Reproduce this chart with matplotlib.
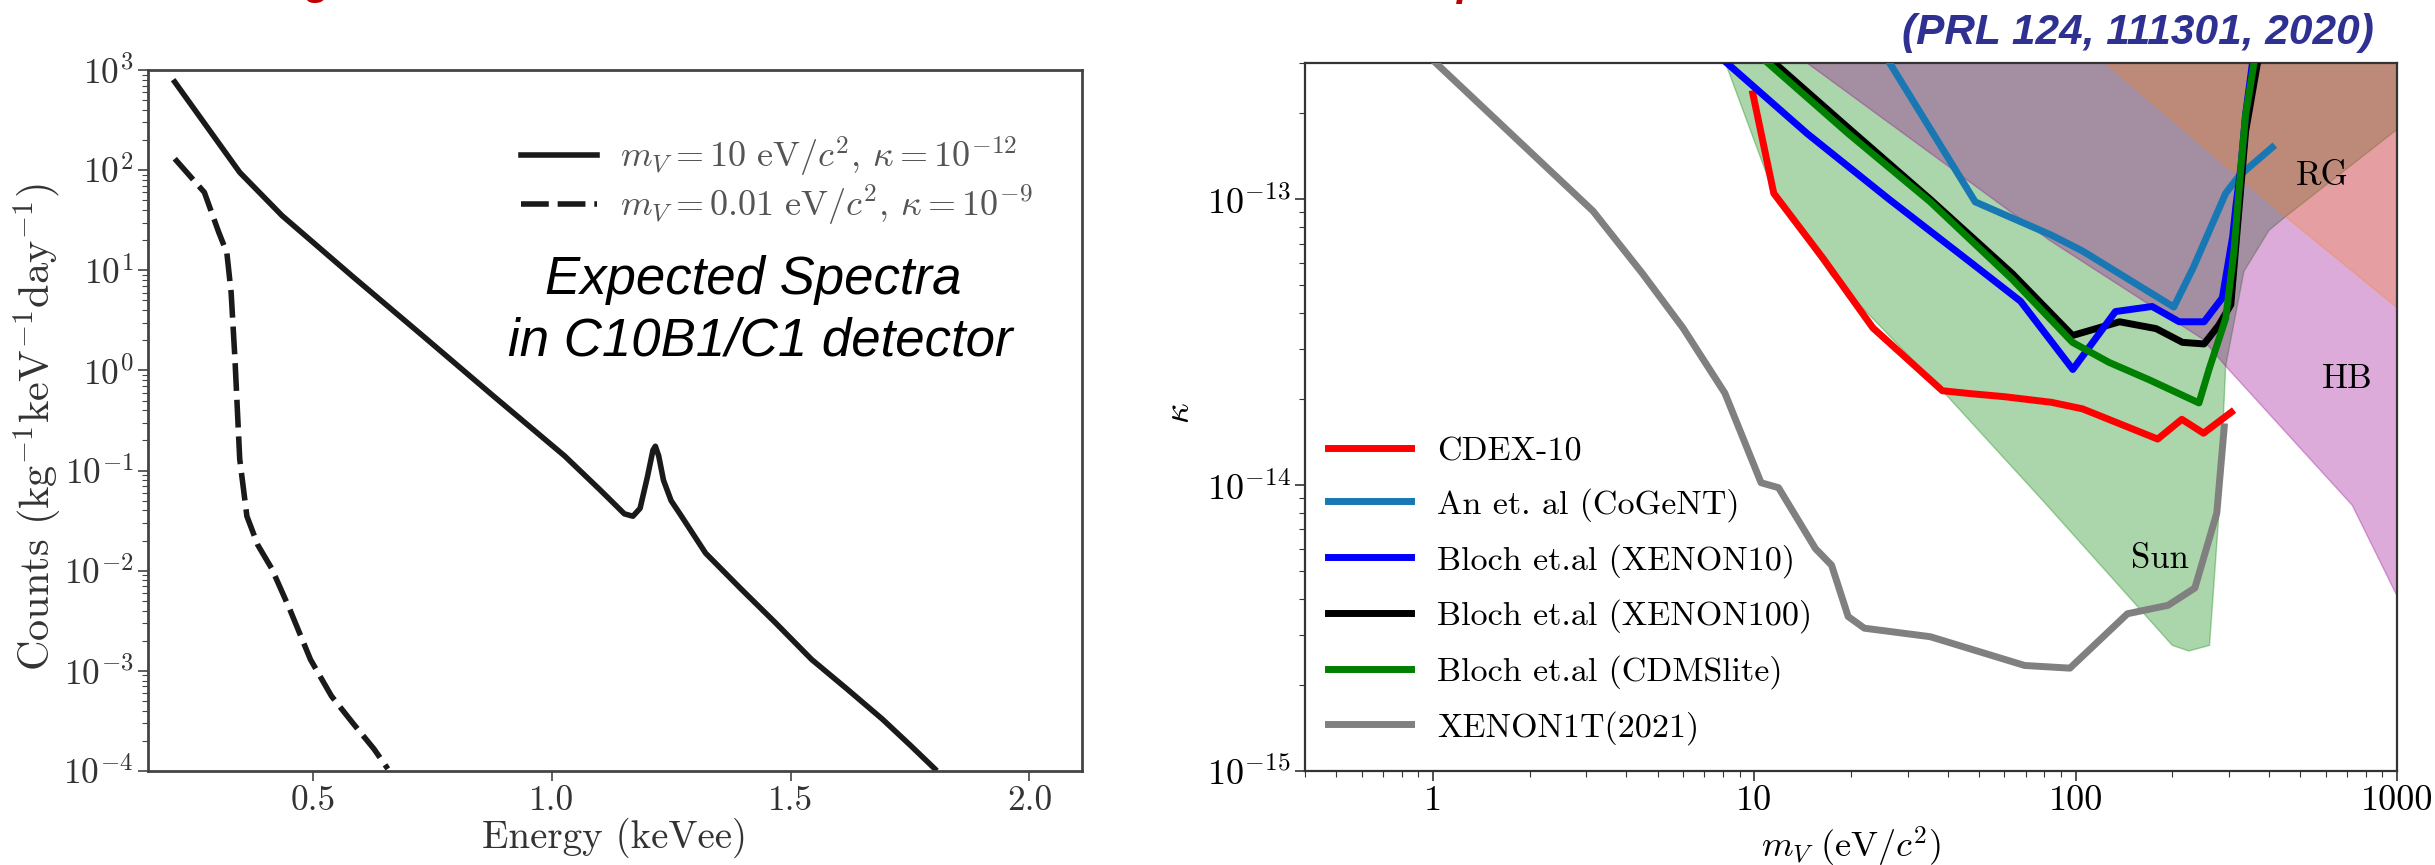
import numpy as np
import matplotlib
matplotlib.use('Agg')
import matplotlib.pyplot as plt
from matplotlib.lines import Line2D

plt.rcParams['font.family'] = ['cmr10', 'DejaVu Serif']
plt.rcParams['mathtext.fontset'] = 'cm'
plt.rcParams['axes.formatter.use_mathtext'] = True
plt.rcParams['axes.unicode_minus'] = False

# ---------------- Left panel data: expected spectra ----------------
energy_solid = [0.211, 0.347, 0.436, 0.583, 0.731, 0.879, 1.027, 1.10, 1.13, 1.152, 1.17,
                1.185, 1.200, 1.212, 1.217, 1.224, 1.234, 1.25, 1.27, 1.322, 1.396, 1.469,
                1.544, 1.618, 1.692, 1.751, 1.802]
counts_solid = [760, 95, 35, 8.7, 2.2, 0.55, 0.14, 0.065, 0.047, 0.037, 0.035,
                0.042, 0.085, 0.16, 0.175, 0.14, 0.08, 0.05, 0.036, 0.015, 0.0066, 0.003,
                0.0013, 0.00066, 0.00033, 0.00018, 0.000105]

energy_dashed = [0.211, 0.273, 0.303, 0.320, 0.329, 0.337, 0.347, 0.362, 0.385, 0.414,
                 0.451, 0.495, 0.539, 0.584, 0.628, 0.657]
counts_dashed = [130, 60, 24, 15, 6, 1.3, 0.13, 0.035, 0.018, 0.0105,
                 0.0042, 0.0013, 0.00056, 0.0003, 0.000166, 0.000105]

legend_left = [r'$m_V = 10\ \mathrm{eV}/c^2$, $\kappa = 10^{-12}$',
               r'$m_V = 0.01\ \mathrm{eV}/c^2$, $\kappa = 10^{-9}$']

# ---------------- Right panel data: exclusion limits ----------------
cdex_m = [9.9, 11.5, 16.4, 23.4, 38.5, 47.3, 60, 84, 105, 130, 180, 214, 250, 305]
cdex_k = [2.34e-13, 1.05e-13, 6.2e-14, 3.55e-14, 2.14e-14, 2.09e-14, 2.04e-14, 1.95e-14,
          1.85e-14, 1.68e-14, 1.45e-14, 1.7e-14, 1.52e-14, 1.8e-14]

cogent_m = [25.3, 48.7, 84, 105, 202, 232, 293, 323, 409]
cogent_k = [3.24e-13, 9.8e-14, 7.5e-14, 6.6e-14, 4.2e-14, 5.75e-14, 1.05e-13, 1.21e-13, 1.52e-13]

xe10_m = [7.6, 14.6, 26.3, 47.3, 67.4, 98, 133, 173, 210, 251, 286, 308, 315, 327, 338, 359]
xe10_k = [3.24e-13, 1.70e-13, 1.0e-13, 6.0e-14, 4.4e-14, 2.54e-14, 4.05e-14, 4.22e-14,
          3.73e-14, 3.73e-14, 4.52e-14, 7.4e-14, 9.4e-14, 1.31e-13, 1.98e-13, 3.3e-13]

xe100_m = [10.7, 19.6, 35.3, 63.5, 97.8, 137, 178, 215, 251, 279, 304, 311, 338, 368, 375]
xe100_k = [3.24e-13, 1.78e-13, 1.0e-13, 5.5e-14, 3.34e-14, 3.73e-14, 3.53e-14, 3.16e-14,
           3.12e-14, 3.63e-14, 4.28e-14, 5.78e-14, 1.73e-13, 3.0e-13, 3.3e-13]

cdms_m = [10.2, 19.6, 35.3, 63.5, 97.8, 127, 169, 242, 260, 293, 311, 327, 338, 359, 362]
cdms_k = [3.24e-13, 1.70e-13, 9.8e-14, 5.25e-14, 3.16e-14, 2.69e-14, 2.34e-14, 1.94e-14,
          2.54e-14, 3.83e-14, 6.6e-14, 1.31e-13, 1.98e-13, 3.0e-13, 3.3e-13]

xe1t_m = [0.95, 3.15, 4.49, 6.0, 8.1, 10.5, 11.9, 15.5, 17.4, 19.6, 22, 35.3, 69.4, 96,
          145, 194, 235, 275, 290]
xe1t_k = [3.24e-13, 9.1e-14, 5.5e-14, 3.55e-14, 2.1e-14, 1.02e-14, 9.8e-15, 6.0e-15, 5.25e-15,
          3.47e-15, 3.16e-15, 2.95e-15, 2.34e-15, 2.29e-15, 3.55e-15, 3.8e-15, 4.37e-15,
          8.0e-15, 1.6e-14]

# Sun (green shaded region) boundary
sun_m = [7.4, 11.5, 17.4, 38.5, 80, 200, 225, 261, 280, 293, 334, 400, 450, 1100, 1100]
sun_k = [4.0e-13, 1.05e-13, 5.4e-14, 2.14e-14, 8.7e-15, 2.75e-15, 2.63e-15, 2.75e-15,
         8.3e-15, 2.61e-14, 5.6e-14, 7.8e-14, 8.7e-14, 1.91e-13, 4.0e-13]
# HB (purple shaded region) boundary
hb_m = [10.7, 14.6, 82.8, 248, 293, 726, 1100, 1100]
hb_k = [4.0e-13, 3.0e-13, 7.2e-14, 3.25e-14, 2.61e-14, 8.5e-15, 3.3e-15, 4.0e-13]
# RG (orange shaded region) boundary
rg_m = [92, 450, 1100, 1100]
rg_k = [4.0e-13, 8.7e-14, 3.83e-14, 4.0e-13]

region_labels = ['Sun', 'RG', 'HB']
region_label_m = [183, 586, 700]
region_label_k = [5.5e-15, 1.21e-13, 2.34e-14]

legend_right = ['CDEX-10', 'An et. al (CoGeNT)', 'Bloch et.al (XENON10)',
                'Bloch et.al (XENON100)', 'Bloch et.al (CDMSlite)', 'XENON1T(2021)']

# ---------------- Figure ----------------
W, H = 2435, 865
fig = plt.figure(figsize=(W / 100, H / 100), dpi=100)

axL = fig.add_axes([148 / W, 1 - 771 / H, (1082 - 148) / W, (771 - 70) / H])
axR = fig.add_axes([1305 / W, 1 - 771 / H, (2397 - 1305) / W, (771 - 63) / H])

# ---- left ----
axL.plot(energy_solid, counts_solid, color='#1a1a1a', lw=4, solid_joinstyle='round')
axL.plot(energy_dashed, counts_dashed, color='#1a1a1a', lw=4, dashes=(5.0, 1.6))
axL.set_yscale('log')
axL.set_xlim(0.155, 2.11)
axL.set_ylim(1e-4, 1e3)
axL.set_xticks([0.5, 1.0, 1.5, 2.0])
axL.set_xticklabels(['0.5', '1.0', '1.5', '2.0'])
axL.set_xlabel('Energy (keVee)', fontsize=28, color='#333333')
axL.xaxis.set_label_coords(0.5, -0.066)
axL.set_ylabel(r'Counts (kg$^{-1}$keV$^{-1}$day$^{-1}$)', fontsize=30.5, color='#333333')
axL.yaxis.set_label_coords(-0.091, 0.49)
axL.tick_params(axis='both', which='major', labelsize=25.5, labelcolor='#333333', length=7,
                width=1.2, color='#444444')
axL.tick_params(axis='both', which='minor', length=4, width=0.8, color='#444444')
for s in axL.spines.values():
    s.set_color('#444444')
    s.set_linewidth(2)
hL = [Line2D([], [], color='#1a1a1a', lw=4),
      Line2D([], [], color='#1a1a1a', lw=4, dashes=(5.0, 1.6))]
legL = axL.legend(hL, legend_left, loc='upper right', bbox_to_anchor=(0.9475, 0.907),
                  frameon=False, fontsize=26, handlelength=2.1, handletextpad=0.65,
                  labelspacing=0.1, borderaxespad=0, borderpad=0)
for t in legL.get_texts():
    t.set_color('#555555')
axL.text(0.648, 0.700, 'Expected Spectra', transform=axL.transAxes, ha='center', va='center',
         fontsize=38, style='italic', family=['Liberation Sans', 'DejaVu Sans'])
axL.text(0.656, 0.612, 'in C10B1/C1 detector', transform=axL.transAxes, ha='center', va='center',
         fontsize=38, style='italic', family=['Liberation Sans', 'DejaVu Sans'])

# ---- right ----
axR.set_xscale('log')
axR.set_yscale('log')
purple = (150 / 255, 0, 145 / 255)
axR.fill(sun_m, sun_k, facecolor='green', edgecolor='green', alpha=0.33, lw=1, zorder=1)
axR.fill(hb_m, hb_k, facecolor=purple, edgecolor=purple, alpha=0.33, lw=1, zorder=1.1)
axR.fill(rg_m, rg_k, facecolor='#ff7f0e', edgecolor='#ff7f0e', alpha=0.28, lw=1, zorder=1.2)

lw = 5
l_x1t, = axR.plot(xe1t_m, xe1t_k, color='#808080', lw=lw, zorder=3)
l_cdex, = axR.plot(cdex_m, cdex_k, color='#ff0000', lw=lw, zorder=3.1)
l_cog, = axR.plot(cogent_m, cogent_k, color='#1878b4', lw=lw, zorder=3.2)
l_x100, = axR.plot(xe100_m, xe100_k, color='black', lw=lw, zorder=3.3)
l_x10, = axR.plot(xe10_m, xe10_k, color='#0000ff', lw=lw, zorder=3.4)
l_cdms, = axR.plot(cdms_m, cdms_k, color='#008000', lw=lw, zorder=3.5)

for lab, m, k in zip(region_labels, region_label_m, region_label_k):
    axR.text(m, k, lab, fontsize=25, ha='center', va='center', zorder=4)

axR.set_xlim(0.4, 1000)
axR.set_ylim(1e-15, 3e-13)
axR.set_xticks([1, 10, 100, 1000])
axR.set_xticklabels(['1', '10', '100', '1000'])
axR.set_yticks([1e-15, 1e-14, 1e-13])
axR.set_xlabel(r'$m_V\ (\mathrm{eV}/c^2)$', fontsize=26)
axR.xaxis.set_label_coords(0.5, -0.076)
axR.set_ylabel(r'$\kappa$', fontsize=26)
axR.yaxis.set_label_coords(-0.1, 0.505)
axR.tick_params(axis='both', which='major', labelsize=26, length=7, width=1.2, color='#333333')
axR.tick_params(axis='both', which='minor', length=4, width=0.8, color='#333333')
for s in axR.spines.values():
    s.set_color('#333333')
    s.set_linewidth(1.6)
axR.legend([l_cdex, l_cog, l_x10, l_x100, l_cdms, l_x1t], legend_right, loc='lower left',
           bbox_to_anchor=(0.021, 0.037), frameon=False, fontsize=24.5, handlelength=2.45,
           handletextpad=0.75, labelspacing=0.64, borderaxespad=0, borderpad=0)

# ---- figure texts ----
fig.text(2374 / W, 1 - 33 / H, '(PRL 124, 111301, 2020)', ha='right', va='center',
         fontsize=30.5, fontweight='bold', style='italic', color='#2e3192',
         family=['Liberation Sans', 'DejaVu Sans'])
fig.text(318 / W, 1 + 6 / H, 'g', ha='center', va='baseline', fontsize=30, fontweight='bold',
         style='italic', color='#c00000', family=['Liberation Sans', 'DejaVu Sans'])
fig.text(1470 / W, 1 + 5 / H, 'p', ha='center', va='baseline', fontsize=30, fontweight='bold',
         style='italic', color='#c00000', family=['Liberation Sans', 'DejaVu Sans'])

fig.savefig('out.png', dpi=100)
